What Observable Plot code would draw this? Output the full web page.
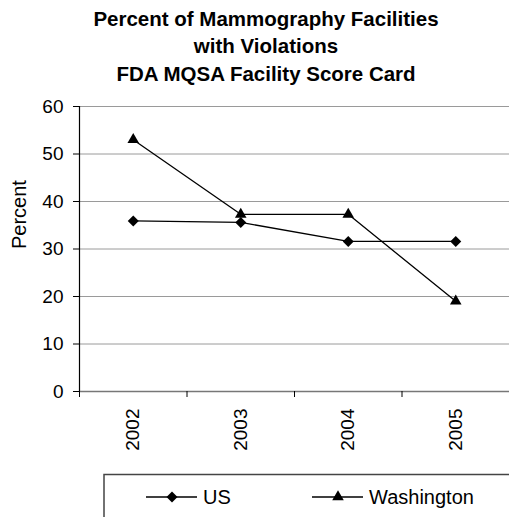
<!DOCTYPE html>
<html><head><meta charset="utf-8">
<script src="https://cdn.jsdelivr.net/npm/d3@7"></script>
<script src="https://cdn.jsdelivr.net/npm/@observablehq/plot@0.6"></script>
<style>
body{margin:0;background:#fff;font-family:"Liberation Sans",Arial,sans-serif;}
#wrap{position:relative;width:509px;height:517px;overflow:hidden;background:#fff;}
#title{position:absolute;left:0;top:4.7px;width:532px;text-align:center;font-weight:bold;font-size:20.5px;line-height:27.5px;color:#000;}
#chart{position:absolute;left:0;top:90px;}
#legend{position:absolute;left:103px;top:473px;}
</style></head><body>
<div id="wrap">
<div id="title">Percent of Mammography Facilities<br>with Violations<br>FDA MQSA Facility Score Card</div>
<div id="chart"></div>
<svg id="legend" width="406" height="44"></svg>
</div>
<script>
const years = [2002, 2003, 2004, 2005];
const usValues = [35.9, 35.6, 31.6, 31.6];
const waValues = [53.0, 37.3, 37.3, 19.0];
const yTicks = [0, 10, 20, 30, 40, 50, 60];
const seriesNames = ["US", "Washington"];
const seriesSymbols = ["diamond2", "triangle"];

const rows = [];
years.forEach((y, i) => rows.push({year: y, value: usValues[i], series: seriesNames[0]}));
years.forEach((y, i) => rows.push({year: y, value: waValues[i], series: seriesNames[1]}));
const boundaries = [years[0] - 0.5, ...years.map(y => y + 0.5)];

const chart = Plot.plot({
  width: 509, height: 427,
  marginTop: 16, marginBottom: 126, marginLeft: 79, marginRight: 0,
  style: {fontFamily: "Liberation Sans, Arial, sans-serif", fontSize: "19px", color: "#000", background: "#fff", overflow: "visible"},
  x: {type: "linear", domain: [boundaries[0], boundaries[boundaries.length - 1]]},
  y: {domain: [yTicks[0], yTicks[yTicks.length - 1]]},
  marks: [
    Plot.ruleY(yTicks.filter(d => d > 0), {stroke: "#9a9a9a", strokeWidth: 1}),
    Plot.ruleY([0], {stroke: "#777", strokeWidth: 1.6}),
    Plot.ruleX([boundaries[0]], {stroke: "#000", strokeWidth: 1.2}),
    Plot.axisY({ticks: yTicks, tickSize: 6, tickPadding: 10, label: null, tickFormat: d => String(d)}),
    Plot.axisX({ticks: boundaries, tickSize: 6, tickFormat: () => "", label: null}),
    Plot.axisX({ticks: years, tickSize: 0, tickPadding: 17, tickRotate: -90, tickFormat: d => String(d), label: null}),
    Plot.text(["Percent"], {text: d => d, frameAnchor: "left", dx: -60, rotate: -90, fontSize: 20}),
    Plot.line(rows, {x: "year", y: "value", z: "series", stroke: "#000", strokeWidth: 1.3}),
    Plot.dot(rows.filter(d => d.series === seriesNames[0]), {x: "year", y: "value", symbol: seriesSymbols[0], r: 4.95, fill: "#000", stroke: "none"}),
    Plot.dot(rows.filter(d => d.series === seriesNames[1]), {x: "year", y: "value", symbol: seriesSymbols[1], r: 4.3, fill: "#000", stroke: "none"})
  ]
});
document.getElementById("chart").appendChild(chart);

// legend
const leg = d3.select("#legend");
leg.append("path").attr("d", "M1,45V1.5H410").attr("fill", "none").attr("stroke", "#444").attr("stroke-width", 1.5);
const items = [
  {name: seriesNames[0], sym: d3.symbolDiamond2, size: 77, x0: 43, xt: 100},
  {name: seriesNames[1], sym: d3.symbolTriangle, size: 58, x0: 209, xt: 266}
];
items.forEach(it => {
  leg.append("line").attr("x1", it.x0).attr("x2", it.x0 + 51).attr("y1", 24).attr("y2", 24).attr("stroke", "#000").attr("stroke-width", 1.3);
  leg.append("path").attr("d", d3.symbol(it.sym, it.size)()).attr("transform", `translate(${it.x0 + 26},24)`).attr("fill", "#000");
  leg.append("text").attr("x", it.xt).attr("y", 31).attr("font-size", 20).attr("font-family", "Liberation Sans, Arial, sans-serif").text(it.name);
});
</script>
</body></html>
